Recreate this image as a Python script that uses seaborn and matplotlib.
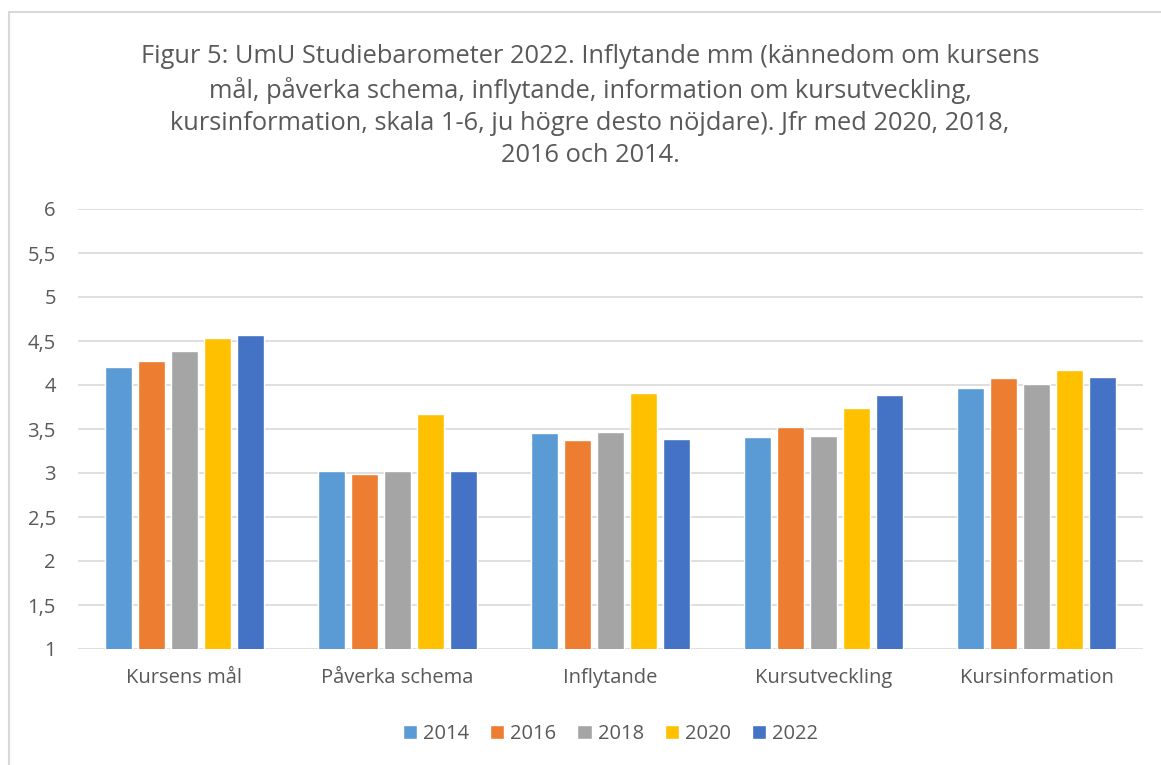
import pandas as pd
import matplotlib.pyplot as plt
import seaborn as sns
from matplotlib.patches import Rectangle

# Data
categories = ['Kursens mål', 'Påverka schema', 'Inflytande', 'Kursutveckling', 'Kursinformation']
years = ['2014', '2016', '2018', '2020', '2022']
v2014 = [4.20, 3.02, 3.46, 3.41, 3.97]
v2016 = [4.27, 2.99, 3.37, 3.52, 4.08]
v2018 = [4.39, 3.02, 3.47, 3.42, 4.01]
v2020 = [4.53, 3.67, 3.91, 3.74, 4.17]
v2022 = [4.57, 3.02, 3.39, 3.89, 4.09]
yticks = [1, 1.5, 2, 2.5, 3, 3.5, 4, 4.5, 5, 5.5, 6]
ytick_labels = ['1', '1,5', '2', '2,5', '3', '3,5', '4', '4,5', '5', '5,5', '6']
colors = ['#5B9BD5', '#ED7D31', '#A5A5A5', '#FFC000', '#4472C4']

title = ('Figur 5: UmU Studiebarometer 2022. Inflytande mm (kännedom om kursens\n'
         'mål, påverka schema, inflytande, information om kursutveckling,\n'
         'kursinformation, skala 1-6, ju högre desto nöjdare). Jfr med 2020, 2018,\n'
         '2016 och 2014.')

rows = []
for year, vals in zip(years, [v2014, v2016, v2018, v2020, v2022]):
    for cat, v in zip(categories, vals):
        rows.append({'kategori': cat, 'år': year, 'värde': v})
df = pd.DataFrame(rows)

sns.set_style('white')
plt.rcParams['font.family'] = ['Open Sans', 'DejaVu Sans']
text_color = '#595959'

fig = plt.figure(figsize=(11.61, 7.65), dpi=100)
ax = fig.add_axes([78 / 1161, 1 - 649 / 765, (1143 - 78) / 1161, (649 - 209) / 765])

sns.barplot(data=df, x='kategori', y='värde', hue='år', order=categories, hue_order=years,
            palette=colors, width=0.775, gap=0.2, saturation=1, ax=ax, legend=True)

ax.set_ylim(1, 6)
ax.set_xlim(-0.5, 4.5)
ax.set_yticks(yticks)
ax.set_yticklabels(ytick_labels)
ax.yaxis.grid(True, color='#D9D9D9', linewidth=1.2)
ax.set_axisbelow(True)
for s in ax.spines.values():
    s.set_visible(False)
ax.tick_params(axis='both', length=0, labelsize=14.5, labelcolor=text_color)
ax.tick_params(axis='y', pad=16)
ax.tick_params(axis='x', pad=14)
ax.set_xlabel('')
ax.set_ylabel('')

ax.legend(loc='upper center', bbox_to_anchor=(0.5, -0.13), ncol=5, frameon=False,
          fontsize=14.5, labelcolor=text_color, handlelength=0.7, handleheight=0.7,
          handletextpad=0.3, columnspacing=1.05)

fig.text(590 / 1161, 1 - 106 / 765, title, ha='center', va='center', fontsize=18.3,
         color=text_color, linespacing=1.38)

# chart frame
fig.patches.append(Rectangle((9 / 1161, -0.05), 1.2, 1 - 12 / 765 + 0.05,
                             transform=fig.transFigure, fill=False,
                             edgecolor='#D9D9D9', linewidth=1.5))

plt.savefig('out.png', dpi=100)
plt.close()
